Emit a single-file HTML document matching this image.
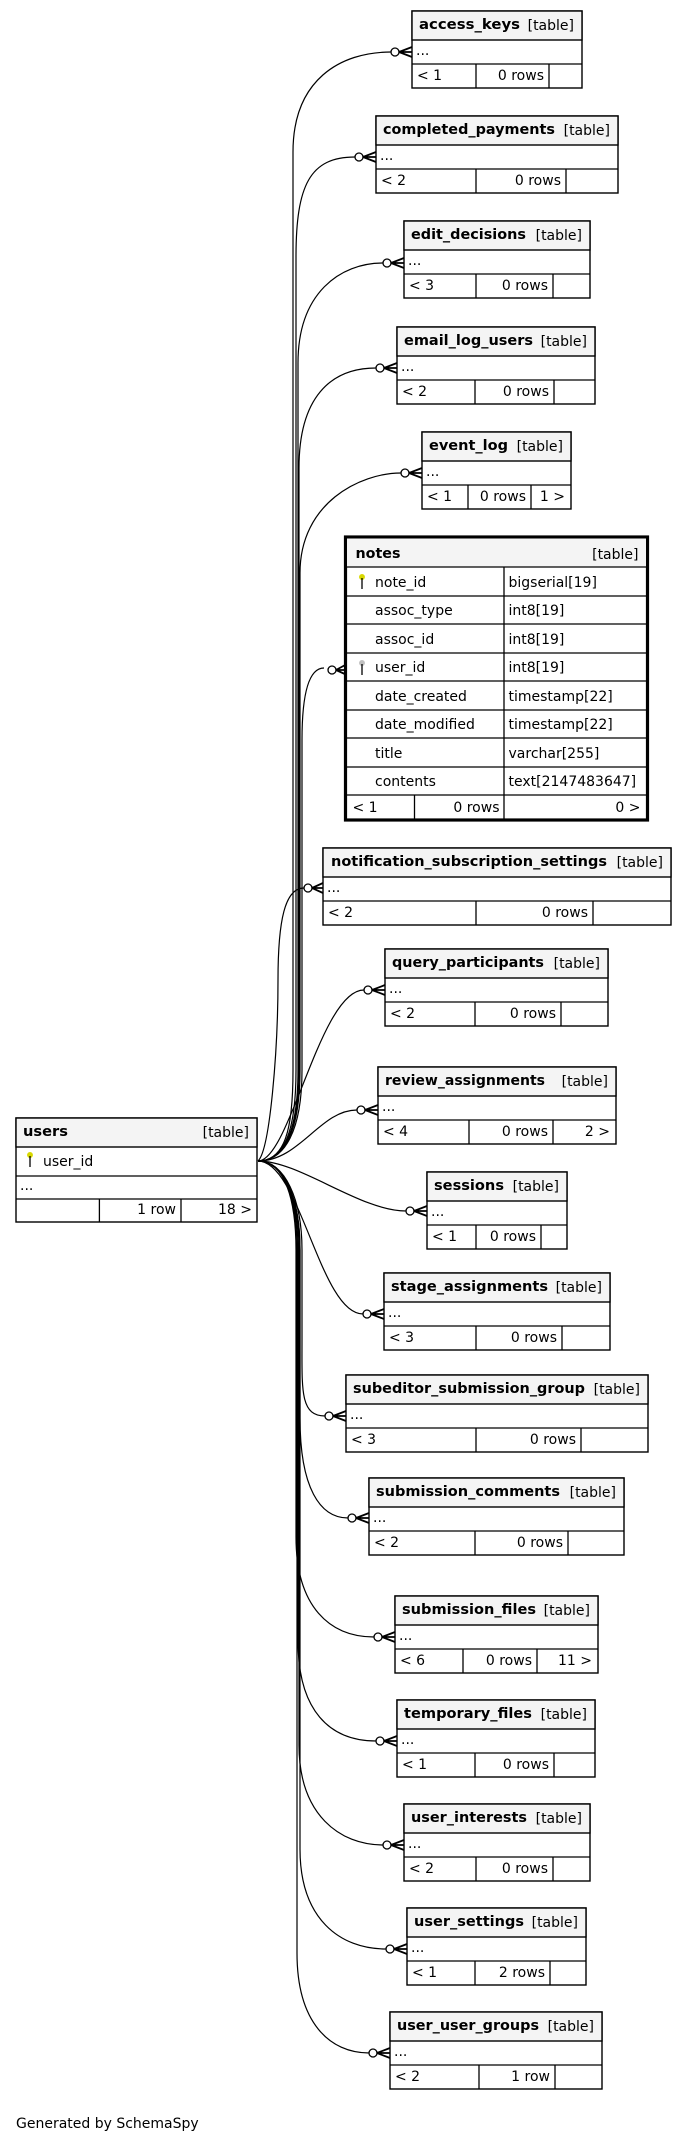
<!DOCTYPE html>
<html><head><meta charset="utf-8"><style>
html,body{margin:0;padding:0;background:#fff;}
svg{display:block;}
text{font-family:"DejaVu Sans","Liberation Sans",sans-serif;font-size:14px;fill:#000;}
.b{font-weight:bold;}
.e{text-anchor:end;}
.t rect{stroke:#000;stroke-width:1.4;}
.t line{stroke:#000;stroke-width:1.3;}
.ed{fill:none;stroke:#000;stroke-width:1.2;}
.cf{fill:none;stroke:#000;stroke-width:1.8;}
.ci{fill:#fff;stroke:#000;stroke-width:1.3;}
</style></head><body>
<svg width="683" height="2149" viewBox="0 0 683 2149" xmlns="http://www.w3.org/2000/svg">

<g class="ed">
<path d="M258,1161 C285,1161 293,1130 293,1070 L293,152 C293,80 340,52 391,52"/>
<path d="M258,1161 C285,1161 296,1130 296,1070 L296,257 C296,185 310,157 355,157"/>
<path d="M258,1161 C285,1161 298,1130 298,1070 L298,363 C298,293 340,263 383,263"/>
<path d="M258,1161 C285,1161 299,1130 299,1070 L299,468 C299,398 330,368 376,368"/>
<path d="M258,1161 C285,1161 300,1130 300,1070 L300,573 C300,503 360,473 401,473"/>
<path d="M258,1161 C285,1161 302,1130 302,1070 L302,740 C302,690 310,668 324,668"/>
<path d="M258,1161 C270,1150 278,1050 278,980 C278,920 285,888 304,888"/>
<path d="M258,1161 C290,1161 320,990 364,990"/>
<path d="M258,1161 C300,1161 320,1110 357,1110"/>
<path d="M258,1161 C300,1161 360,1211 406,1211"/>
<path d="M258,1161 C300,1161 320,1314 363,1314"/>
<path d="M258,1161 C285,1161 302,1200 302,1250 L302,1340 C302,1390 300,1416 325,1416"/>
<path d="M258,1161 C285,1161 300,1200 300,1250 L300,1418 C300,1488 320,1518 348,1518"/>
<path d="M258,1161 C285,1161 296,1200 296,1250 L296,1537 C296,1607 330,1637 374,1637"/>
<path d="M258,1161 C285,1161 298,1200 298,1250 L298,1641 C298,1711 330,1741 376,1741"/>
<path d="M258,1161 C285,1161 299,1200 299,1250 L299,1745 C299,1815 340,1845 383,1845"/>
<path d="M258,1161 C285,1161 300,1200 300,1250 L300,1849 C300,1919 340,1949 386,1949"/>
<path d="M258,1161 C285,1161 297,1200 297,1250 L297,1953 C297,2023 330,2053 369,2053"/>
</g>

<g>
<circle class="ci" cx="395" cy="52" r="4"/><path class="cf" d="M399,52L412,47M399,52L412,52M399,52L412,57"/>
<circle class="ci" cx="359" cy="157" r="4"/><path class="cf" d="M363,157L376,152M363,157L376,157M363,157L376,162"/>
<circle class="ci" cx="387" cy="263" r="4"/><path class="cf" d="M391,263L404,258M391,263L404,263M391,263L404,268"/>
<circle class="ci" cx="380" cy="368" r="4"/><path class="cf" d="M384,368L397,363M384,368L397,368M384,368L397,373"/>
<circle class="ci" cx="405" cy="473" r="4"/><path class="cf" d="M409,473L422,468M409,473L422,473M409,473L422,478"/>
<circle class="ci" cx="332" cy="670" r="4"/><path class="cf" d="M336,670L347,664M336,670L347,670M336,670L347,675"/>
<circle class="ci" cx="308" cy="888" r="4"/><path class="cf" d="M312,888L323,883M312,888L323,888M312,888L323,893"/>
<circle class="ci" cx="368" cy="990" r="4"/><path class="cf" d="M372,990L385,985M372,990L385,990M372,990L385,995"/>
<circle class="ci" cx="361" cy="1110" r="4"/><path class="cf" d="M365,1110L378,1105M365,1110L378,1110M365,1110L378,1115"/>
<circle class="ci" cx="410" cy="1211" r="4"/><path class="cf" d="M414,1211L427,1206M414,1211L427,1211M414,1211L427,1216"/>
<circle class="ci" cx="367" cy="1314" r="4"/><path class="cf" d="M371,1314L384,1309M371,1314L384,1314M371,1314L384,1319"/>
<circle class="ci" cx="329" cy="1416" r="4"/><path class="cf" d="M333,1416L346,1411M333,1416L346,1416M333,1416L346,1421"/>
<circle class="ci" cx="352" cy="1518" r="4"/><path class="cf" d="M356,1518L369,1513M356,1518L369,1518M356,1518L369,1523"/>
<circle class="ci" cx="378" cy="1637" r="4"/><path class="cf" d="M382,1637L395,1632M382,1637L395,1637M382,1637L395,1642"/>
<circle class="ci" cx="380" cy="1741" r="4"/><path class="cf" d="M384,1741L397,1736M384,1741L397,1741M384,1741L397,1746"/>
<circle class="ci" cx="387" cy="1845" r="4"/><path class="cf" d="M391,1845L404,1840M391,1845L404,1845M391,1845L404,1850"/>
<circle class="ci" cx="390" cy="1949" r="4"/><path class="cf" d="M394,1949L407,1944M394,1949L407,1949M394,1949L407,1954"/>
<circle class="ci" cx="373" cy="2053" r="4"/><path class="cf" d="M377,2053L390,2048M377,2053L390,2053M377,2053L390,2058"/>
</g>

<g class="t" transform="translate(412,11)">
<rect width="170" height="77" fill="#fff"/><rect width="170" height="29" fill="#f4f4f4"/>
<line x1="0" y1="53" x2="170" y2="53"/><line x1="64" y1="53" x2="64" y2="77"/><line x1="137" y1="53" x2="137" y2="77"/>
<text x="7" y="18" class="b" textLength="101" lengthAdjust="spacingAndGlyphs">access_keys</text><text x="162" y="19" class="e">[table]</text>
<text x="4" y="44">...</text><text x="5" y="69">&lt; 1</text><text x="132" y="69" class="e">0 rows</text>
</g>

<g class="t" transform="translate(376,116)">
<rect width="242" height="77" fill="#fff"/><rect width="242" height="29" fill="#f4f4f4"/>
<line x1="0" y1="53" x2="242" y2="53"/><line x1="100" y1="53" x2="100" y2="77"/><line x1="190" y1="53" x2="190" y2="77"/>
<text x="7" y="18" class="b" textLength="172" lengthAdjust="spacingAndGlyphs">completed_payments</text><text x="234" y="19" class="e">[table]</text>
<text x="4" y="44">...</text><text x="5" y="69">&lt; 2</text><text x="185" y="69" class="e">0 rows</text>
</g>

<g class="t" transform="translate(404,221)">
<rect width="186" height="77" fill="#fff"/><rect width="186" height="29" fill="#f4f4f4"/>
<line x1="0" y1="53" x2="186" y2="53"/><line x1="72" y1="53" x2="72" y2="77"/><line x1="149" y1="53" x2="149" y2="77"/>
<text x="7" y="18" class="b" textLength="115" lengthAdjust="spacingAndGlyphs">edit_decisions</text><text x="178" y="19" class="e">[table]</text>
<text x="4" y="44">...</text><text x="5" y="69">&lt; 3</text><text x="144" y="69" class="e">0 rows</text>
</g>

<g class="t" transform="translate(397,327)">
<rect width="198" height="77" fill="#fff"/><rect width="198" height="29" fill="#f4f4f4"/>
<line x1="0" y1="53" x2="198" y2="53"/><line x1="78" y1="53" x2="78" y2="77"/><line x1="157" y1="53" x2="157" y2="77"/>
<text x="7" y="18" class="b" textLength="129" lengthAdjust="spacingAndGlyphs">email_log_users</text><text x="190" y="19" class="e">[table]</text>
<text x="4" y="44">...</text><text x="5" y="69">&lt; 2</text><text x="152" y="69" class="e">0 rows</text>
</g>

<g class="t" transform="translate(422,432)">
<rect width="149" height="77" fill="#fff"/><rect width="149" height="29" fill="#f4f4f4"/>
<line x1="0" y1="53" x2="149" y2="53"/><line x1="46" y1="53" x2="46" y2="77"/><line x1="109" y1="53" x2="109" y2="77"/>
<text x="7" y="18" class="b" textLength="79" lengthAdjust="spacingAndGlyphs">event_log</text><text x="141" y="19" class="e">[table]</text>
<text x="4" y="44">...</text><text x="5" y="69">&lt; 1</text><text x="104" y="69" class="e">0 rows</text><text x="143" y="69" class="e">1 &gt;</text>
</g>

<g class="t" transform="translate(345.5,537)">
<rect width="302" height="283" fill="#fff" style="stroke-width:3.2"/>
<rect x="1.5" y="1.5" width="299" height="28.5" fill="#f4f4f4" style="stroke:none"/>
<line x1="0" y1="30" x2="302" y2="30"/><line x1="0" y1="59" x2="302" y2="59"/><line x1="0" y1="87" x2="302" y2="87"/>
<line x1="0" y1="116" x2="302" y2="116"/><line x1="0" y1="144" x2="302" y2="144"/><line x1="0" y1="173" x2="302" y2="173"/>
<line x1="0" y1="201" x2="302" y2="201"/><line x1="0" y1="230" x2="302" y2="230"/><line x1="0" y1="258" x2="302" y2="258"/>
<line x1="158.5" y1="30" x2="158.5" y2="283"/><line x1="69" y1="258" x2="69" y2="283"/>
<text x="10" y="21" class="b" textLength="45" lengthAdjust="spacingAndGlyphs">notes</text><text x="293" y="22" class="e">[table]</text>
<g fill="#d8d800" stroke="#d8d800" stroke-width="1.5"><circle cx="16.5" cy="40" r="2.2"/><line x1="16.5" y1="41" x2="16.5" y2="52"/></g>
<g fill="#c0c0c0" stroke="#c0c0c0" stroke-width="1.5"><circle cx="16.5" cy="126" r="2.2"/><line x1="16.5" y1="127" x2="16.5" y2="138"/></g>
<text x="29.5" y="50">note_id</text><text x="163" y="50">bigserial[19]</text>
<text x="29.5" y="78">assoc_type</text><text x="163" y="78">int8[19]</text>
<text x="29.5" y="107">assoc_id</text><text x="163" y="107">int8[19]</text>
<text x="29.5" y="135">user_id</text><text x="163" y="135">int8[19]</text>
<text x="29.5" y="164">date_created</text><text x="163" y="164">timestamp[22]</text>
<text x="29.5" y="192">date_modified</text><text x="163" y="192">timestamp[22]</text>
<text x="29.5" y="221">title</text><text x="163" y="221">varchar[255]</text>
<text x="29.5" y="249">contents</text><text x="163" y="249">text[2147483647]</text>
<text x="7" y="275">&lt; 1</text><text x="154" y="275" class="e">0 rows</text><text x="295" y="275" class="e">0 &gt;</text>
</g>

<g class="t" transform="translate(323,848)">
<rect width="348" height="77" fill="#fff"/><rect width="348" height="29" fill="#f4f4f4"/>
<line x1="0" y1="53" x2="348" y2="53"/><line x1="153" y1="53" x2="153" y2="77"/><line x1="270" y1="53" x2="270" y2="77"/>
<text x="8" y="18" class="b" textLength="276" lengthAdjust="spacingAndGlyphs">notification_subscription_settings</text><text x="340" y="19" class="e">[table]</text>
<text x="4" y="44">...</text><text x="5" y="69">&lt; 2</text><text x="265" y="69" class="e">0 rows</text>
</g>

<g class="t" transform="translate(385,949)">
<rect width="223" height="77" fill="#fff"/><rect width="223" height="29" fill="#f4f4f4"/>
<line x1="0" y1="53" x2="223" y2="53"/><line x1="90" y1="53" x2="90" y2="77"/><line x1="176" y1="53" x2="176" y2="77"/>
<text x="7" y="18" class="b" textLength="152" lengthAdjust="spacingAndGlyphs">query_participants</text><text x="215" y="19" class="e">[table]</text>
<text x="4" y="44">...</text><text x="5" y="69">&lt; 2</text><text x="171" y="69" class="e">0 rows</text>
</g>

<g class="t" transform="translate(378,1067)">
<rect width="238" height="77" fill="#fff"/><rect width="238" height="29" fill="#f4f4f4"/>
<line x1="0" y1="53" x2="238" y2="53"/><line x1="91" y1="53" x2="91" y2="77"/><line x1="175" y1="53" x2="175" y2="77"/>
<text x="7" y="18" class="b" textLength="160" lengthAdjust="spacingAndGlyphs">review_assignments</text><text x="230" y="19" class="e">[table]</text>
<text x="4" y="44">...</text><text x="5" y="69">&lt; 4</text><text x="170" y="69" class="e">0 rows</text><text x="232" y="69" class="e">2 &gt;</text>
</g>

<g class="t" transform="translate(16,1118)">
<rect width="241" height="104" fill="#fff"/><rect width="241" height="29" fill="#f4f4f4"/>
<line x1="0" y1="58" x2="241" y2="58"/><line x1="0" y1="81" x2="241" y2="81"/>
<line x1="83.4" y1="81" x2="83.4" y2="104"/><line x1="165" y1="81" x2="165" y2="104"/>
<text x="7" y="18" class="b" textLength="45" lengthAdjust="spacingAndGlyphs">users</text><text x="233" y="19" class="e">[table]</text>
<g fill="#d8d800" stroke="#d8d800" stroke-width="1.5"><circle cx="14" cy="37" r="2.2"/><line x1="14" y1="38" x2="14" y2="49"/></g>
<text x="27" y="48">user_id</text>
<text x="4" y="72">...</text>
<text x="160" y="96" class="e">1 row</text><text x="236" y="96" class="e">18 &gt;</text>
</g>

<g class="t" transform="translate(427,1172)">
<rect width="140" height="77" fill="#fff"/><rect width="140" height="29" fill="#f4f4f4"/>
<line x1="0" y1="53" x2="140" y2="53"/><line x1="49" y1="53" x2="49" y2="77"/><line x1="114" y1="53" x2="114" y2="77"/>
<text x="7" y="18" class="b" textLength="70" lengthAdjust="spacingAndGlyphs">sessions</text><text x="132" y="19" class="e">[table]</text>
<text x="4" y="44">...</text><text x="5" y="69">&lt; 1</text><text x="109" y="69" class="e">0 rows</text>
</g>

<g class="t" transform="translate(384,1273)">
<rect width="226" height="77" fill="#fff"/><rect width="226" height="29" fill="#f4f4f4"/>
<line x1="0" y1="53" x2="226" y2="53"/><line x1="92" y1="53" x2="92" y2="77"/><line x1="178" y1="53" x2="178" y2="77"/>
<text x="7" y="18" class="b" textLength="157" lengthAdjust="spacingAndGlyphs">stage_assignments</text><text x="218" y="19" class="e">[table]</text>
<text x="4" y="44">...</text><text x="5" y="69">&lt; 3</text><text x="173" y="69" class="e">0 rows</text>
</g>

<g class="t" transform="translate(346,1375)">
<rect width="302" height="77" fill="#fff"/><rect width="302" height="29" fill="#f4f4f4"/>
<line x1="0" y1="53" x2="302" y2="53"/><line x1="130" y1="53" x2="130" y2="77"/><line x1="235" y1="53" x2="235" y2="77"/>
<text x="7" y="18" class="b" textLength="232" lengthAdjust="spacingAndGlyphs">subeditor_submission_group</text><text x="294" y="19" class="e">[table]</text>
<text x="4" y="44">...</text><text x="5" y="69">&lt; 3</text><text x="230" y="69" class="e">0 rows</text>
</g>

<g class="t" transform="translate(369,1478)">
<rect width="255" height="77" fill="#fff"/><rect width="255" height="29" fill="#f4f4f4"/>
<line x1="0" y1="53" x2="255" y2="53"/><line x1="106" y1="53" x2="106" y2="77"/><line x1="199" y1="53" x2="199" y2="77"/>
<text x="7" y="18" class="b" textLength="184" lengthAdjust="spacingAndGlyphs">submission_comments</text><text x="247" y="19" class="e">[table]</text>
<text x="4" y="44">...</text><text x="5" y="69">&lt; 2</text><text x="194" y="69" class="e">0 rows</text>
</g>

<g class="t" transform="translate(395,1596)">
<rect width="203" height="77" fill="#fff"/><rect width="203" height="29" fill="#f4f4f4"/>
<line x1="0" y1="53" x2="203" y2="53"/><line x1="68" y1="53" x2="68" y2="77"/><line x1="142" y1="53" x2="142" y2="77"/>
<text x="7" y="18" class="b" textLength="134" lengthAdjust="spacingAndGlyphs">submission_files</text><text x="195" y="19" class="e">[table]</text>
<text x="4" y="44">...</text><text x="5" y="69">&lt; 6</text><text x="137" y="69" class="e">0 rows</text><text x="197" y="69" class="e">11 &gt;</text>
</g>

<g class="t" transform="translate(397,1700)">
<rect width="198" height="77" fill="#fff"/><rect width="198" height="29" fill="#f4f4f4"/>
<line x1="0" y1="53" x2="198" y2="53"/><line x1="78" y1="53" x2="78" y2="77"/><line x1="157" y1="53" x2="157" y2="77"/>
<text x="7" y="18" class="b" textLength="128" lengthAdjust="spacingAndGlyphs">temporary_files</text><text x="190" y="19" class="e">[table]</text>
<text x="4" y="44">...</text><text x="5" y="69">&lt; 1</text><text x="152" y="69" class="e">0 rows</text>
</g>

<g class="t" transform="translate(404,1804)">
<rect width="186" height="77" fill="#fff"/><rect width="186" height="29" fill="#f4f4f4"/>
<line x1="0" y1="53" x2="186" y2="53"/><line x1="72" y1="53" x2="72" y2="77"/><line x1="149" y1="53" x2="149" y2="77"/>
<text x="7" y="18" class="b" textLength="116" lengthAdjust="spacingAndGlyphs">user_interests</text><text x="178" y="19" class="e">[table]</text>
<text x="4" y="44">...</text><text x="5" y="69">&lt; 2</text><text x="144" y="69" class="e">0 rows</text>
</g>

<g class="t" transform="translate(407,1908)">
<rect width="179" height="77" fill="#fff"/><rect width="179" height="29" fill="#f4f4f4"/>
<line x1="0" y1="53" x2="179" y2="53"/><line x1="68" y1="53" x2="68" y2="77"/><line x1="143" y1="53" x2="143" y2="77"/>
<text x="7" y="18" class="b" textLength="110" lengthAdjust="spacingAndGlyphs">user_settings</text><text x="171" y="19" class="e">[table]</text>
<text x="4" y="44">...</text><text x="5" y="69">&lt; 1</text><text x="138" y="69" class="e">2 rows</text>
</g>

<g class="t" transform="translate(390,2012)">
<rect width="212" height="77" fill="#fff"/><rect width="212" height="29" fill="#f4f4f4"/>
<line x1="0" y1="53" x2="212" y2="53"/><line x1="89" y1="53" x2="89" y2="77"/><line x1="165" y1="53" x2="165" y2="77"/>
<text x="7" y="18" class="b" textLength="142" lengthAdjust="spacingAndGlyphs">user_user_groups</text><text x="204" y="19" class="e">[table]</text>
<text x="4" y="44">...</text><text x="5" y="69">&lt; 2</text><text x="160" y="69" class="e">1 row</text>
</g>

<text x="16" y="2128">Generated by SchemaSpy</text>
</svg>
</body></html>
